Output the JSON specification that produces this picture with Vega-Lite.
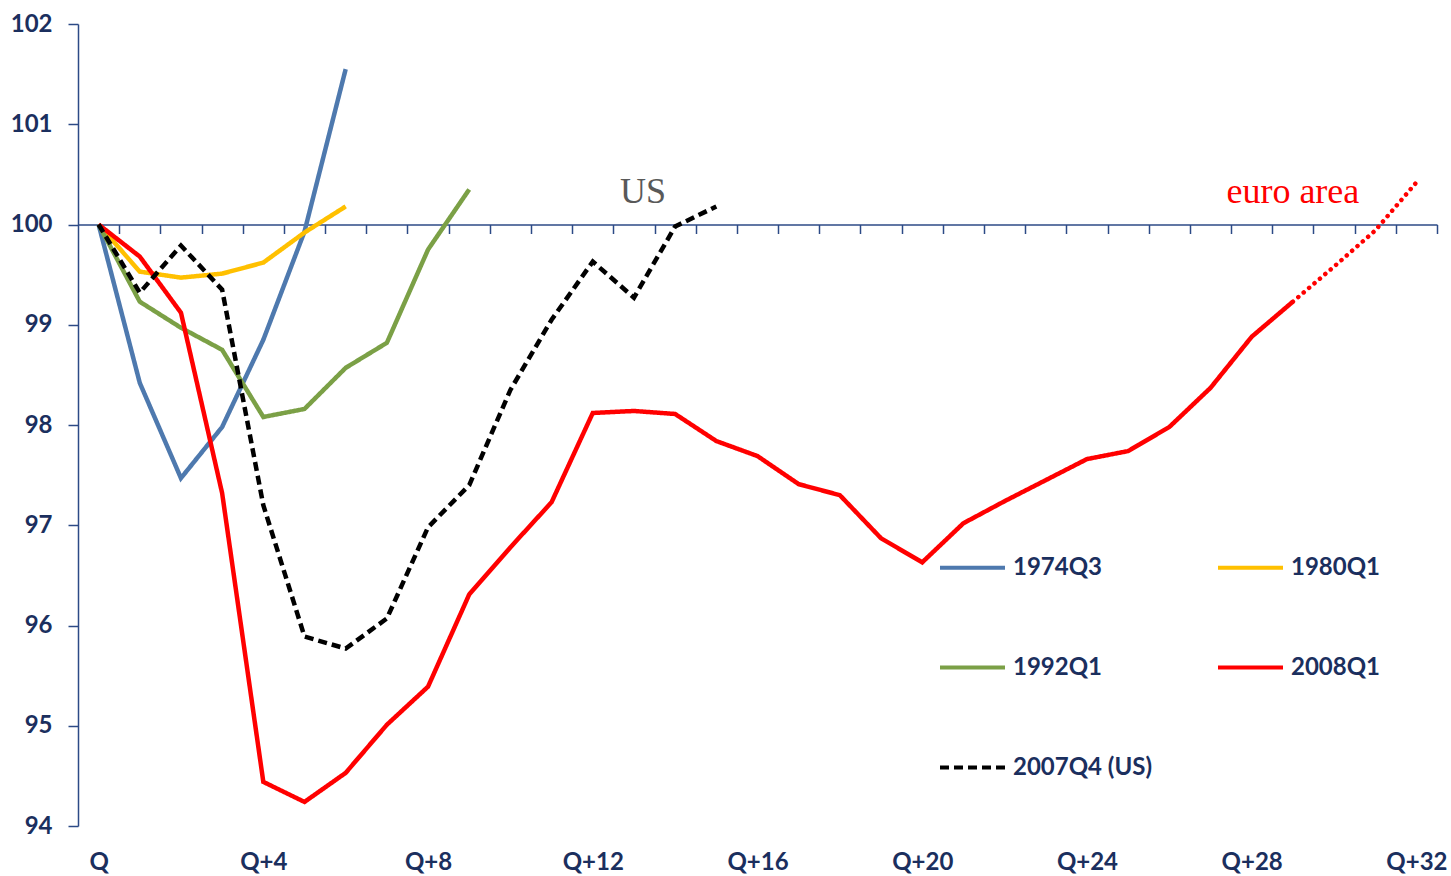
{
  "$schema": "https://vega.github.io/schema/vega-lite/v6.json",
  "width": 1359,
  "height": 802,
  "autosize": "none",
  "padding": {"left": 78, "top": 24, "right": 14, "bottom": 50},
  "background": "white",
  "datasets": {
    "series": [
      {"series": "1974Q3", "q": 0, "v": 100}, {"series": "1974Q3", "q": 1, "v": 98.42}, {"series": "1974Q3", "q": 2, "v": 97.47}, {"series": "1974Q3", "q": 3, "v": 97.98}, {"series": "1974Q3", "q": 4, "v": 98.85}, {"series": "1974Q3", "q": 5, "v": 99.93}, {"series": "1974Q3", "q": 6, "v": 101.55},
      {"series": "1980Q1", "q": 0, "v": 100}, {"series": "1980Q1", "q": 1, "v": 99.53}, {"series": "1980Q1", "q": 2, "v": 99.47}, {"series": "1980Q1", "q": 3, "v": 99.51}, {"series": "1980Q1", "q": 4, "v": 99.62}, {"series": "1980Q1", "q": 5, "v": 99.92}, {"series": "1980Q1", "q": 6, "v": 100.18},
      {"series": "1992Q1", "q": 0, "v": 100}, {"series": "1992Q1", "q": 1, "v": 99.23}, {"series": "1992Q1", "q": 2, "v": 98.97}, {"series": "1992Q1", "q": 3, "v": 98.75}, {"series": "1992Q1", "q": 4, "v": 98.08}, {"series": "1992Q1", "q": 5, "v": 98.16}, {"series": "1992Q1", "q": 6, "v": 98.57}, {"series": "1992Q1", "q": 7, "v": 98.82}, {"series": "1992Q1", "q": 8, "v": 99.75}, {"series": "1992Q1", "q": 9, "v": 100.35},
      {"series": "2008Q1", "q": 0, "v": 100}, {"series": "2008Q1", "q": 1, "v": 99.68}, {"series": "2008Q1", "q": 2, "v": 99.12}, {"series": "2008Q1", "q": 3, "v": 97.32}, {"series": "2008Q1", "q": 4, "v": 94.44}, {"series": "2008Q1", "q": 5, "v": 94.24}, {"series": "2008Q1", "q": 6, "v": 94.53}, {"series": "2008Q1", "q": 7, "v": 95.01}, {"series": "2008Q1", "q": 8, "v": 95.39}, {"series": "2008Q1", "q": 9, "v": 96.31}, {"series": "2008Q1", "q": 10, "v": 96.78}, {"series": "2008Q1", "q": 11, "v": 97.23}, {"series": "2008Q1", "q": 12, "v": 98.12}, {"series": "2008Q1", "q": 13, "v": 98.14}, {"series": "2008Q1", "q": 14, "v": 98.11}, {"series": "2008Q1", "q": 15, "v": 97.84}, {"series": "2008Q1", "q": 16, "v": 97.69}, {"series": "2008Q1", "q": 17, "v": 97.41}, {"series": "2008Q1", "q": 18, "v": 97.3}, {"series": "2008Q1", "q": 19, "v": 96.87}, {"series": "2008Q1", "q": 20, "v": 96.63}, {"series": "2008Q1", "q": 21, "v": 97.02}, {"series": "2008Q1", "q": 22, "v": 97.24}, {"series": "2008Q1", "q": 23, "v": 97.45}, {"series": "2008Q1", "q": 24, "v": 97.66}, {"series": "2008Q1", "q": 25, "v": 97.74}, {"series": "2008Q1", "q": 26, "v": 97.98}, {"series": "2008Q1", "q": 27, "v": 98.37}, {"series": "2008Q1", "q": 28, "v": 98.88}, {"series": "2008Q1", "q": 29, "v": 99.23},
      {"series": "2007Q4 (US)", "q": 0, "v": 100}, {"series": "2007Q4 (US)", "q": 1, "v": 99.32}, {"series": "2007Q4 (US)", "q": 2, "v": 99.79}, {"series": "2007Q4 (US)", "q": 3, "v": 99.35}, {"series": "2007Q4 (US)", "q": 4, "v": 97.2}, {"series": "2007Q4 (US)", "q": 5, "v": 95.89}, {"series": "2007Q4 (US)", "q": 6, "v": 95.77}, {"series": "2007Q4 (US)", "q": 7, "v": 96.07}, {"series": "2007Q4 (US)", "q": 8, "v": 96.98}, {"series": "2007Q4 (US)", "q": 9, "v": 97.4}, {"series": "2007Q4 (US)", "q": 10, "v": 98.35}, {"series": "2007Q4 (US)", "q": 11, "v": 99.05}, {"series": "2007Q4 (US)", "q": 12, "v": 99.63}, {"series": "2007Q4 (US)", "q": 13, "v": 99.27}, {"series": "2007Q4 (US)", "q": 14, "v": 99.98}, {"series": "2007Q4 (US)", "q": 15, "v": 100.18}
    ],
    "proj": [
      {"q": 29, "v": 99.23}, {"q": 30, "v": 99.58}, {"q": 31, "v": 99.94}, {"q": 32, "v": 100.42}
    ]
  },
  "encoding": {
    "x": {
      "field": "q", "type": "quantitative", "title": null,
      "scale": {"domain": [-0.5, 32.5], "nice": false, "zero": false},
      "axis": {
        "values": [0,1,2,3,4,5,6,7,8,9,10,11,12,13,14,15,16,17,18,19,20,21,22,23,24,25,26,27,28,29,30,31,32],
        "offset": -601.5,
        "tickOffset": 20.59,
        "labelOffset": -20.59,
        "tickSize": 9,
        "labelPadding": 617,
        "labelExpr": "datum.value % 4 === 0 ? (datum.value === 0 ? 'Q' : 'Q+' + datum.value) : ''",
        "labelOverlap": false,
        "labelFlush": false,
        "grid": false
      }
    },
    "y": {
      "field": "v", "type": "quantitative", "title": null,
      "scale": {"domain": [94, 102], "nice": false, "zero": false},
      "axis": {"values": [94,95,96,97,98,99,100,101,102], "tickSize": 10, "labelPadding": 16, "grid": false}
    }
  },
  "layer": [
    {
      "data": {"name": "series"},
      "mark": {"type": "line", "strokeWidth": 4.5},
      "encoding": {
        "color": {
          "field": "series", "type": "nominal", "title": null,
          "scale": {"domain": ["1974Q3", "1980Q1", "1992Q1", "2008Q1", "2007Q4 (US)"], "range": ["#4E79AE", "#FFC000", "#7BA046", "#FF0000", "#000000"]}
        },
        "strokeDash": {
          "field": "series", "type": "nominal", "title": null,
          "scale": {"domain": ["1974Q3", "1980Q1", "1992Q1", "2008Q1", "2007Q4 (US)"], "range": [[1, 0], [1, 0], [1, 0], [1, 0], [9, 5]]}
        },
        "order": {"field": "q", "type": "quantitative"}
      }
    },
    {
      "data": {"name": "proj"},
      "mark": {"type": "line", "color": "#FF0000", "strokeWidth": 4.5, "strokeDash": [0.1, 7], "strokeCap": "round"},
      "encoding": {}
    },
    {
      "data": {"values": [{"label": "US", "q": 13.22, "v": 100.32}]},
      "mark": {"type": "text", "font": "Liberation Serif", "fontSize": 36, "color": "#595959", "align": "center", "baseline": "middle"},
      "encoding": {"text": {"field": "label"}}
    },
    {
      "data": {"values": [{"label": "euro area", "q": 29.0, "v": 100.32}]},
      "mark": {"type": "text", "font": "Liberation Serif", "fontSize": 36, "color": "#FF0000", "align": "center", "baseline": "middle"},
      "encoding": {"text": {"field": "label"}}
    }
  ],
  "config": {
    "view": {"stroke": null},
    "axis": {
      "labelFont": "Lato", "labelFontSize": 24, "labelFontWeight": "bold", "labelColor": "#1B2F5E",
      "domainColor": "#2C4A86", "tickColor": "#2C4A86", "domainWidth": 1.5, "tickWidth": 1.5
    },
    "legend": {
      "orient": "none", "direction": "horizontal", "legendX": 860, "legendY": 509, "columns": 2, "columnPadding": 58, "rowPadding": 53,
      "symbolType": "stroke", "symbolSize": 4225, "symbolStrokeWidth": 4,
      "labelFont": "Lato", "labelFontSize": 24, "labelFontWeight": "bold", "labelColor": "#1B2F5E",
      "labelOffset": 6, "padding": 0, "gridAlign": "all", "labelLimit": 300
    }
  }
}
